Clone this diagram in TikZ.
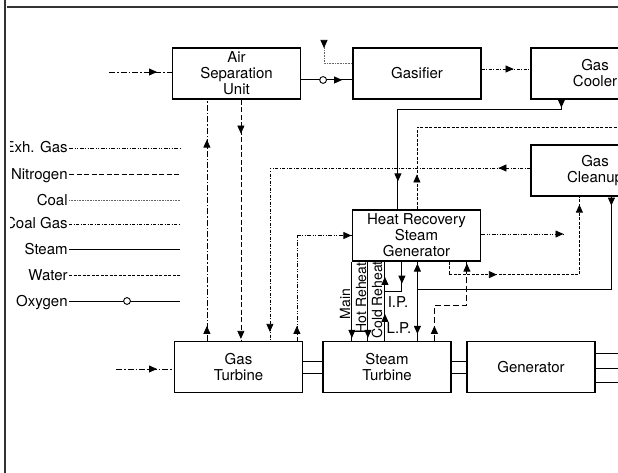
\documentclass[tikz,border=0pt]{standalone}
\usepackage{fontspec}
\setmainfont{TeX Gyre Heros}
\usetikzlibrary{arrows.meta,decorations.markings}

\begin{document}
\begin{tikzpicture}[x=1pt,y=-1pt,line width=0.75pt,font=\fontsize{15}{16}\selectfont,
  unit/.style={draw,line width=1.2pt,minimum width=128pt,minimum height=51pt,inner sep=0pt,align=center},
  sidelabel/.style={rotate=90,inner sep=0pt,font=\fontsize{14}{16}\selectfont},
  air/.style={dash pattern=on 6pt off 2pt on 1.5pt off 2pt},
  exhgas/.style={dash pattern=on 4pt off 1.5pt on 1pt off 1.5pt on 1pt off 1.5pt},
  nitrogen/.style={dash pattern=on 5pt off 2.5pt},
  coal/.style={dash pattern=on 0.8pt off 0.8pt,black!60},
  coalgas/.style={dash pattern=on 3pt off 1.5pt on 1pt off 1.5pt},
  steam/.style={solid,line width=1pt},
  water/.style={dash pattern=on 3pt off 1.5pt},
  feedwater/.style={dash pattern=on 6pt off 3pt,line width=1pt},
  tip/.style={postaction={decorate,decoration={markings,
    mark=at position #1 with {\arrow[black]{Triangle[length=8pt,width=7pt]}}}}},
  ring/.style={postaction={decorate,decoration={markings,
    mark=at position #1 with {\draw[solid,line width=0.9pt,fill=white] (0,0) circle (3.4pt);}}}},
  oxygen/.style={steam,ring=58pt}]
  \clip (0,0) rectangle (618,473);
  % process units
  \node[unit] (asu) at (236.5,73.5) {Air\\Separation\\Unit};
  \node[unit] (gasifier) at (417,73.5) {Gasifier};
  \node[unit] (cooler) at (595,73.5) {Gas\\Cooler};
  \node[unit] (cleanup) at (595,170.5) {Gas\\Cleanup};
  \node[unit] (hrsg) at (416.5,235.5) {Heat Recovery\\Steam\\Generator};
  \node[unit] (gt) at (238.5,367) {Gas\\Turbine};
  \node[unit] (st) at (387,367) {Steam\\Turbine};
  \node[unit] (gen) at (531,367) {Generator};

  % legend
  \foreach \name/\kind/\y in {Exh. Gas/exhgas/148,Nitrogen/nitrogen/174,Coal/coal/200,
      Coal Gas/coalgas/224,Steam/steam/249,Water/water/275,Oxygen/oxygen/301}{
    \node[anchor=base east,inner sep=0pt] (key\kind) at (68,\y+5) {\name};
    \draw[\kind] (69,\y) -- (180,\y);
  }
  \fill[white] (0,0) rectangle (10,473);
  \draw[line width=1.2pt,black!80] (5,0) -- (5,473);
  \draw[line width=1.2pt,black!80] (7,7) -- (618,7);

  % air, oxygen, coal, coal gas
  \coordinate (airasu) at (109,72);
  \coordinate (airgt) at (116,369);
  \coordinate (coalin) at (324,42);
  \draw[air,tip=48pt] (airasu) -- (airasu -| asu.west);
  \draw[air,tip=41pt] (airgt) -- (airgt -| gt.west);
  \draw[steam,ring=22pt,tip=41pt] ([yshift=-6.5pt]asu.east) -- ([yshift=-6.5pt]gasifier.west);
  \draw[coal,tip=6pt] (coalin) |- ([yshift=10.5pt]gasifier.west);
  \draw[coalgas,tip=32pt] ([yshift=4.5pt]gasifier.east) -- ([yshift=4.5pt]cooler.west);
  \draw[coalgas,tip=32pt,tip=-9pt] ([yshift=2.5pt]cleanup.west) -| ([xshift=96pt]gt.north west);
  \draw[air,tip=15pt,tip=-40pt] ([xshift=33pt]gt.north west) -- ([xshift=35pt]asu.south west);
  \draw[nitrogen,tip=34pt,tip=-2pt] ([xshift=69pt]asu.south west) -- ([xshift=67pt]gt.north west);

  % exhaust gas
  \coordinate (stack) at (564,234);
  \draw[exhgas,tip=15pt,tip=-0.5pt] ([xshift=123pt]gt.north west) |- (hrsg.west);
  \draw[exhgas,tip=-0.5pt] (hrsg.east |- stack) -- (stack);

  % water
  \coordinate (watertop) at (618,127);
  \draw[water,tip=35pt] ([xshift=65pt]hrsg.north west) |- (watertop);
  \draw[water,tip=61pt,tip=-8pt] ([xshift=97pt]hrsg.south west) -- ++(0,13) -| ([xshift=49pt]cleanup.south west);
  \draw[feedwater,tip=15pt,tip=-2pt] ([xshift=112pt]st.north west) -- ++(0,-35) -| ([xshift=115pt]hrsg.south west);

  % steam
  \coordinate (mainout) at (hrsg.south west);
  \coordinate (hotout) at ([xshift=16pt]hrsg.south west);
  \coordinate (coldin) at ([xshift=33pt]hrsg.south west);
  \coordinate (ipout) at ([xshift=50pt]hrsg.south west);
  \coordinate (lpjoin) at ([xshift=95pt,yshift=51pt]st.north west);
  \draw[steam,tip=8pt,tip=-28pt] ([xshift=31pt]cooler.south west) -- ++(0,10) -| ([xshift=46pt]hrsg.north west);
  \draw[steam,tip=9pt] ([xshift=81pt]cleanup.south west) |- (lpjoin);
  \draw[steam,tip=-2pt] (lpjoin) -- (lpjoin |- hrsg.south);
  \draw[steam,tip=-7pt] (lpjoin) -- (lpjoin |- st.north);
  \draw[steam,tip=-3pt] (mainout) -- (mainout |- st.north);
  \draw[steam,tip=-3pt] (hotout) -- (hotout |- st.north);
  \draw[steam] (mainout |- st.north) ++(0,-9) -- ++(16,0);
  \draw[steam,tip=27pt,tip=64pt] (coldin |- st.north) -- (coldin);
  \draw[steam,tip=22pt] (ipout) -- ++(0,30) -- ++(-17,0);
  \node[sidelabel] (mainlbl) at (345,304) {Main};
  \node[sidelabel] (hotlbl) at (361,298) {Hot Reheat};
  \node[sidelabel] (coldlbl) at (377,300) {Cold Reheat};
  \node[inner sep=0pt] (iplbl) at (398,302) {I.P.};
  \node[inner sep=0pt] (lplbl) at (399,328) {L.P.};

  % shafts
  \foreach \dy in {6,-6}{
    \draw[line width=1pt] ([yshift=\dy pt]gt.east) -- ([yshift=\dy pt]st.west);
    \draw[line width=1pt] ([yshift=\dy pt]st.east) -- ([yshift=\dy pt]gen.west);
  }
  \foreach \dy in {14,-1,-15}
    \draw[line width=1pt] ([yshift=\dy pt]gen.east) -- ++(30,0);
\end{tikzpicture}
\end{document}
